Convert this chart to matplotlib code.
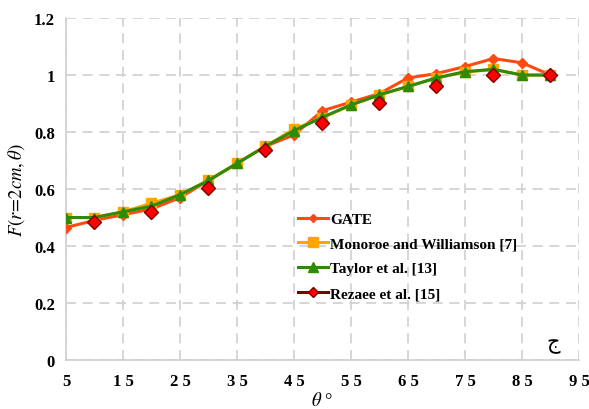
import numpy as np
import matplotlib.pyplot as plt
from matplotlib.lines import Line2D

# Data
theta = [5, 10, 15, 20, 25, 30, 35, 40, 45, 50, 55, 60, 65, 70, 75, 80, 85, 90]
gate = [0.465, 0.49, 0.51, 0.53, 0.57, 0.63, 0.69, 0.75, 0.79, 0.875, 0.905, 0.935,
        0.99, 1.005, 1.03, 1.058, 1.043, 1.0]
monroe = [0.50, 0.50, 0.52, 0.55, 0.58, 0.63, 0.69, 0.75, 0.81, 0.85, 0.895, 0.93,
          0.96, 0.99, 1.01, 1.02, 1.0, 1.0]
taylor = [0.50, 0.50, 0.52, 0.54, 0.58, 0.63, 0.69, 0.75, 0.805, 0.852, 0.895, 0.931,
          0.96, 0.99, 1.012, 1.02, 1.0, 1.0]
theta_rez = [10, 20, 30, 40, 50, 60, 70, 80, 90]
rezaee = [0.485, 0.52, 0.605, 0.737, 0.832, 0.903, 0.96, 1.0, 1.0]

labels = ['GATE', 'Monoroe and Williamson [7]', 'Taylor et al. [13]', 'Rezaee et al. [15]']
xticks = [5, 15, 25, 35, 45, 55, 65, 75, 85, 95]
yticks = [0, 0.2, 0.4, 0.6, 0.8, 1, 1.2]
ytick_labels = ['0', '0.2', '0.4', '0.6', '0.8', '1', '1.2']

plt.rcParams['font.family'] = ['Liberation Serif', 'DejaVu Serif']
plt.rcParams['mathtext.fontset'] = 'stix'

fig = plt.figure(figsize=(5.89, 4.10), dpi=100)
ax = fig.add_axes([0.112, 0.1195, 0.871, 0.834])

c_gate = '#FF4A12'
c_mon = '#FFA500'
c_tay = '#2E8B0A'
c_rez_edge = '#7A0000'

ax.plot(theta, gate, color=c_gate, lw=2.2, marker='D', ms=5, zorder=3)
ax.plot(theta, monroe, color=c_mon, lw=2.2, marker='s', ms=7, zorder=4)
ax.plot(theta, taylor, color=c_tay, lw=2.2, marker='^', ms=7, zorder=5)
ax.plot(theta_rez, rezaee, ls='none', marker='D', ms=7, mfc='#FF0000',
        mec=c_rez_edge, mew=1, zorder=6)

handles = [
    Line2D([], [], color=c_gate, lw=2.2, marker='D', ms=4),
    Line2D([], [], color=c_mon, lw=2.2, marker='s', ms=7),
    Line2D([], [], color=c_tay, lw=2.2, marker='^', ms=7),
    Line2D([], [], color=c_rez_edge, lw=2.2, marker='D', ms=5, mfc='#FF0000', mec=c_rez_edge),
]
leg = ax.legend(handles, labels, loc='upper left', bbox_to_anchor=(0.44, 0.45),
                frameon=False, handlelength=2.0, handletextpad=0.1, labelspacing=0.72,
                prop={'weight': 'bold', 'size': 11}, borderaxespad=0)

ax.set_xlim(5, 95)
ax.set_ylim(0, 1.2)
ax.set_xticks(xticks)
ax.set_xticklabels([' '.join(str(t)) for t in xticks], fontweight='bold', fontsize=12)
ax.set_yticks(yticks)
ax.set_yticklabels(ytick_labels, fontweight='bold', fontsize=12)
ax.tick_params(length=0)
ax.tick_params(axis='y', pad=8)
ax.tick_params(axis='x', pad=9)

ax.grid(True, color='#D0D0D0', ls=(0, (6, 4)), lw=1.2)
ax.set_axisbelow(True)
for s in ['top', 'right']:
    ax.spines[s].set_visible(False)
for s in ['left', 'bottom']:
    ax.spines[s].set_color('#D0D0D0')
    ax.spines[s].set_linewidth(1.2)

ax.set_ylabel(r'$F(r\!=\!2cm,\theta)$', fontsize=13.5, labelpad=5)
ax.set_xlabel(r'$\theta$ °', fontsize=13.5, labelpad=2)

ax.text(0.95, 0.02, 'ج', transform=ax.transAxes, family='DejaVu Sans',
        fontsize=15, ha='center', va='bottom')

fig.savefig('out.png', dpi=100)
